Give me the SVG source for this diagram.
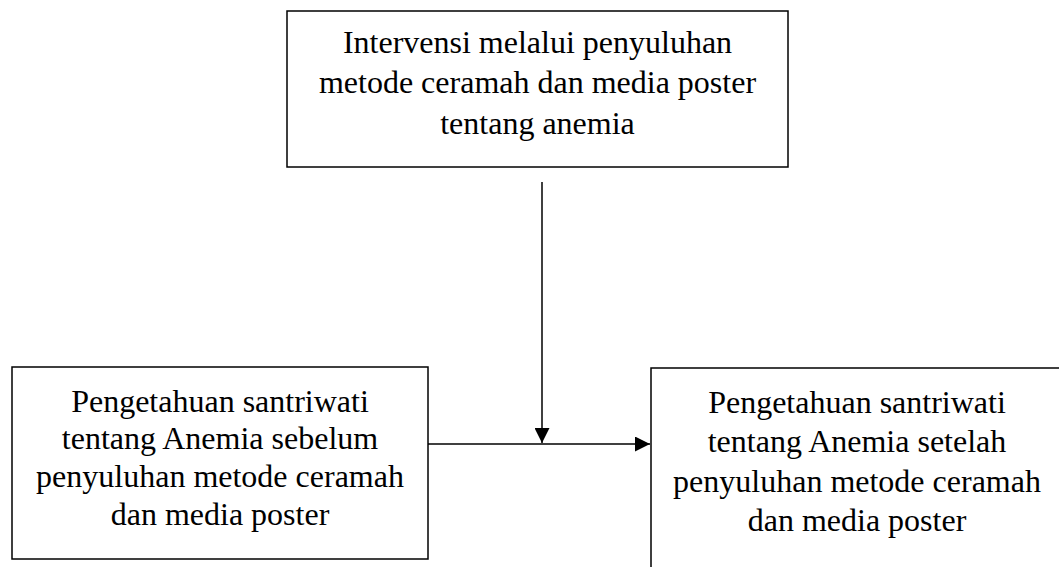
<svg xmlns="http://www.w3.org/2000/svg" width="1059" height="567" viewBox="0 0 1059 567">
<style>
.box{fill:#fff;stroke:#000;stroke-width:1.5}
.t{font-family:"Liberation Serif","Times New Roman",serif;font-size:32px;fill:#000;text-anchor:middle}
.c{stroke:#000;stroke-width:1.5;fill:none}
</style>
<defs>
<marker id="ah" viewBox="0 0 15 15" refX="15" refY="7.5" markerWidth="15" markerHeight="15" markerUnits="userSpaceOnUse" orient="auto">
<path d="M0,0 L15,7.5 L0,15 Z" fill="#000"/>
</marker>
</defs>
<rect width="1059" height="567" fill="#fff"/>
<g id="node-intervensi">
<rect class="box" x="287" y="11" width="501" height="156"/>
<text class="t" x="537.5" y="53">Intervensi melalui penyuluhan</text>
<text class="t" x="537.5" y="93">metode ceramah dan media poster</text>
<text class="t" x="537.5" y="134">tentang anemia</text>
</g>
<g id="node-sebelum">
<rect class="box" x="12" y="367" width="416" height="192"/>
<text class="t" x="220" y="412">Pengetahuan santriwati</text>
<text class="t" x="220" y="449">tentang Anemia sebelum</text>
<text class="t" x="220" y="487">penyuluhan metode ceramah</text>
<text class="t" x="220" y="525">dan media poster</text>
</g>
<g id="node-setelah">
<rect class="box" x="651" y="368" width="420" height="220"/>
<text class="t" x="857" y="413">Pengetahuan santriwati</text>
<text class="t" x="857" y="452">tentang Anemia setelah</text>
<text class="t" x="857" y="492">penyuluhan metode ceramah</text>
<text class="t" x="857" y="531">dan media poster</text>
</g>
<g id="connectors">
<line class="c" x1="542" y1="182" x2="542" y2="443" marker-end="url(#ah)"/>
<line class="c" x1="428" y1="444" x2="650" y2="444" marker-end="url(#ah)"/>
</g>
</svg>
